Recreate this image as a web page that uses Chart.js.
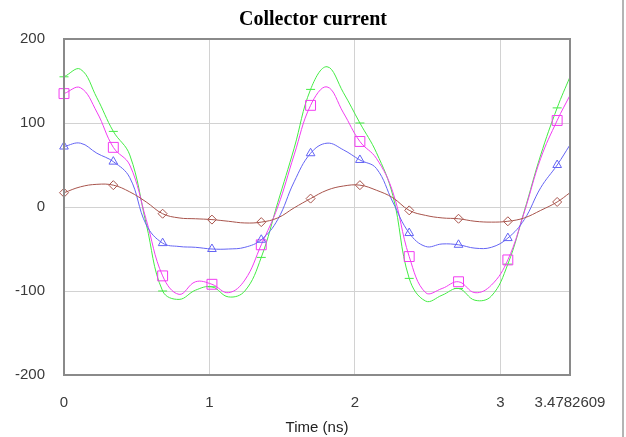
<!DOCTYPE html>
<html>
<head>
<meta charset="utf-8">
<script src="https://cdn.jsdelivr.net/npm/chart.js@4/dist/chart.umd.min.js"></script>
<style>
  html, body { margin: 0; padding: 0; background: #fff; }
  #wrap { width: 626px; height: 437px; position: relative; }
</style>
</head>
<body>
<div id="wrap"><canvas id="c" width="626" height="437"></canvas></div>
<script>
// Time samples (ns)
const times = [0, 0.113, 0.226, 0.339, 0.452, 0.565, 0.678, 0.791, 0.904, 1.017, 1.13, 1.243, 1.356, 1.469, 1.582, 1.695, 1.808, 1.921, 2.034, 2.147, 2.26, 2.373, 2.486, 2.599, 2.712, 2.825, 2.938, 3.051, 3.164, 3.277, 3.39, 3.4782609];

// Collector current series
const greenSeries   = [155, 164, 130, 90, 62, -20, -100, -110, -99, -95, -107, -100, -60, 5, 70, 140, 167, 136, 100, 65, 14, -85, -112, -105, -97, -111, -106, -68, -5, 62, 118, 155];
const magentaSeries = [135, 142, 113, 71, 50, -15, -82, -104, -89, -92, -102, -87, -45, 0, 62, 121, 143, 112, 78, 58, 18, -59, -102, -97, -89, -102, -93, -63, -6, 58, 103, 133];
const blueSeries    = [72, 76, 64, 54, 35, -21, -43, -47, -48, -50, -50, -48, -39, -15, 30, 64, 76, 68, 56, 46, 6, -31, -47, -44, -45, -49, -48, -37, -15, 23, 50, 74];
const brownSeries   = [17, 24, 27, 26, 18, 6, -8, -13, -14, -15, -17, -19, -18, -13, -1, 10, 20, 25, 26, 20, 11, -4, -10, -13, -14, -17, -18, -17, -13, -4, 6, 17];

// Tick labels
const xTicks = [0, 1, 2, 3, 3.4782609];
const xTickLabels = ['0', '1', '2', '3', '3.4782609'];
const yTicks = [200, 100, 0, -100, -200];

const titleText = 'Collector current';
const xAxisTitle = 'Time (ns)';

function pts(vals) { return times.map((t, i) => ({ x: t, y: vals[i] })); }

function ds(vals, color, style, r) {
  return {
    data: pts(vals),
    borderColor: color,
    backgroundColor: 'rgba(0,0,0,0)',
    borderWidth: 1,
    tension: 0.4,
    clip: false,
    pointStyle: style,
    pointBorderColor: color,
    pointBackgroundColor: 'rgba(0,0,0,0)',
    pointBorderWidth: 1,
    pointRadius: ctx => (ctx.dataIndex % 3 === 0 && ctx.dataIndex <= 30) ? r : 0,
    pointHoverRadius: 0
  };
}

const framePlugin = {
  id: 'frame',
  afterDatasetsDraw(chart) {
    const { ctx, chartArea: a } = chart;
    ctx.save();
    ctx.strokeStyle = '#8a8a8a';
    ctx.lineWidth = 2;
    ctx.strokeRect(a.left, a.top, a.right - a.left, a.bottom - a.top);
    ctx.fillStyle = '#b4b4b4';
    ctx.fillRect(chart.width - 4, 0, 2, chart.height);
    ctx.restore();
  }
};

new Chart(document.getElementById('c'), {
  type: 'line',
  data: {
    datasets: [
      ds(brownSeries, '#a8544c', 'rectRot', 4.5),
      ds(blueSeries, '#6464f4', 'triangle', 5),
      ds(magentaSeries, '#f23cf2', 'rect', 7),
      ds(greenSeries, '#44ec44', 'line', 4.5)
    ]
  },
  plugins: [framePlugin],
  options: {
    responsive: false,
    animation: false,
    events: [],
    layout: { padding: 0 },
    plugins: {
      legend: { display: false },
      tooltip: { enabled: false },
      title: {
        display: true,
        text: titleText,
        color: '#000',
        font: { family: 'Liberation Serif', size: 20, weight: 'bold' },
        padding: { top: 8, bottom: 7 }
      }
    },
    scales: {
      x: {
        type: 'linear',
        min: 0,
        max: 3.4782609,
        afterBuildTicks: s => { s.ticks = xTicks.map(v => ({ value: v })); },
        afterFit: s => { s.height = 62; },
        ticks: {
          autoSkip: false,
          maxRotation: 0,
          padding: 19,
          color: '#3a3a3a',
          font: { family: 'Liberation Sans', size: 15 },
          callback: (v, i) => xTickLabels[i]
        },
        grid: { color: '#d2d2d2', lineWidth: 1, drawTicks: false },
        border: { display: false },
        title: {
          display: true,
          text: xAxisTitle,
          color: '#222',
          font: { family: 'Liberation Sans', size: 15 },
          padding: { top: 0, bottom: 0 }
        }
      },
      y: {
        type: 'linear',
        min: -200,
        max: 200,
        afterBuildTicks: s => { s.ticks = yTicks.map(v => ({ value: v })); },
        afterFit: s => { s.width = 64; },
        ticks: {
          padding: 19,
          color: '#3a3a3a',
          font: { family: 'Liberation Sans', size: 15 }
        },
        grid: { color: '#d2d2d2', lineWidth: 1, drawTicks: false },
        border: { display: false }
      },
      yRight: {
        type: 'linear',
        position: 'right',
        min: -200,
        max: 200,
        afterFit: s => { s.width = 56; },
        ticks: { display: false },
        grid: { display: false, drawTicks: false },
        border: { display: false }
      }
    }
  }
});
</script>
</body>
</html>
